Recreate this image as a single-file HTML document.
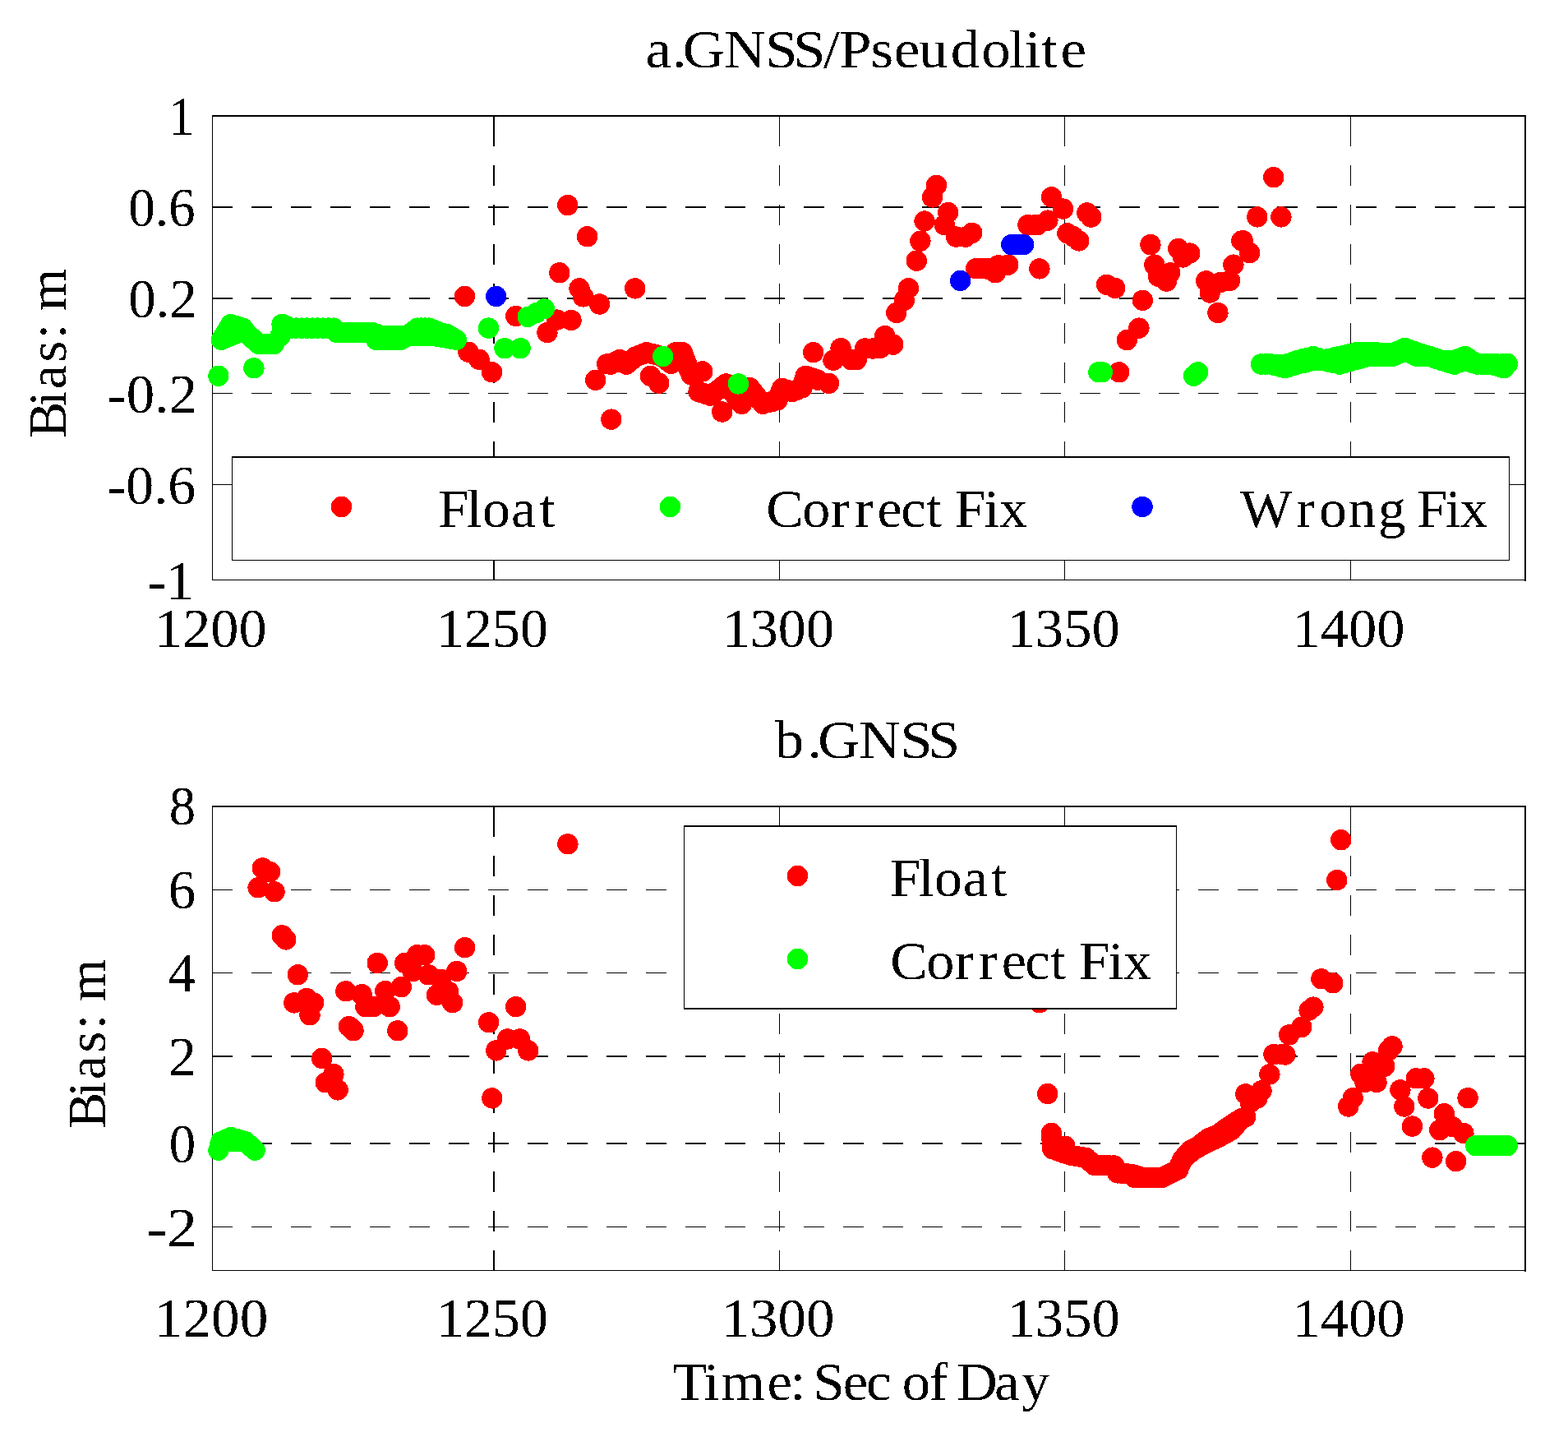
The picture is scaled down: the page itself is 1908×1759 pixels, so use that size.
<!DOCTYPE html>
<html><head><meta charset="utf-8"><title>GNSS/Pseudolite Bias</title>
<style>html,body{margin:0;padding:0;background:#fff;}svg{display:block;}text{font-family:'Liberation Serif', 'Times New Roman', serif;fill:#000;}</style></head><body>
<svg xmlns="http://www.w3.org/2000/svg" width="1908" height="1759" viewBox="0 0 1908 1759">
<defs><filter id="crisp" x="0" y="0" width="100%" height="100%"><feComponentTransfer><feFuncA type="discrete" tableValues="0 1"/></feComponentTransfer></filter></defs>
<rect width="1908" height="1759" fill="#fff"/>
<path d="M258 252H283 M306 252H331 M354 252H379 M402 252H427 M450 252H475 M498 252H523 M546 252H571 M594 252H619 M642 252H667 M690 252H715 M738 252H763 M786 252H811 M834 252H859 M882 252H907 M930 252H955 M978 252H1003 M1026 252H1051 M1074 252H1099 M1122 252H1147 M1170 252H1195 M1218 252H1243 M1266 252H1291 M1314 252H1339 M1362 252H1387 M1410 252H1435 M1458 252H1483 M1506 252H1531 M1554 252H1579 M1602 252H1627 M1650 252H1675 M1698 252H1723 M1746 252H1771 M1794 252H1819 M1836 252H1857" stroke="#000" stroke-width="2" fill="none" shape-rendering="crispEdges"/>
<path d="M258 363H283 M306 363H331 M354 363H379 M402 363H427 M450 363H475 M498 363H523 M546 363H571 M594 363H619 M642 363H667 M690 363H715 M738 363H763 M786 363H811 M834 363H859 M882 363H907 M930 363H955 M978 363H1003 M1026 363H1051 M1074 363H1099 M1122 363H1147 M1170 363H1195 M1218 363H1243 M1266 363H1291 M1314 363H1339 M1362 363H1387 M1410 363H1435 M1458 363H1483 M1506 363H1531 M1554 363H1579 M1602 363H1627 M1650 363H1675 M1698 363H1723 M1746 363H1771 M1794 363H1819 M1836 363H1857" stroke="#000" stroke-width="2" fill="none" shape-rendering="crispEdges"/>
<path d="M258 478.5H283 M306 478.5H331 M354 478.5H379 M402 478.5H427 M450 478.5H475 M498 478.5H523 M546 478.5H571 M594 478.5H619 M642 478.5H667 M690 478.5H715 M738 478.5H763 M786 478.5H811 M834 478.5H859 M882 478.5H907 M930 478.5H955 M978 478.5H1003 M1026 478.5H1051 M1074 478.5H1099 M1122 478.5H1147 M1170 478.5H1195 M1218 478.5H1243 M1266 478.5H1291 M1314 478.5H1339 M1362 478.5H1387 M1410 478.5H1435 M1458 478.5H1483 M1506 478.5H1531 M1554 478.5H1579 M1602 478.5H1627 M1650 478.5H1675 M1698 478.5H1723 M1746 478.5H1771 M1794 478.5H1819 M1836 478.5H1857" stroke="#000" stroke-width="1" fill="none" shape-rendering="crispEdges"/>
<path d="M258 589.5H283 M306 589.5H331 M354 589.5H379 M402 589.5H427 M450 589.5H475 M498 589.5H523 M546 589.5H571 M594 589.5H619 M642 589.5H667 M690 589.5H715 M738 589.5H763 M786 589.5H811 M834 589.5H859 M882 589.5H907 M930 589.5H955 M978 589.5H1003 M1026 589.5H1051 M1074 589.5H1099 M1122 589.5H1147 M1170 589.5H1195 M1218 589.5H1243 M1266 589.5H1291 M1314 589.5H1339 M1362 589.5H1387 M1410 589.5H1435 M1458 589.5H1483 M1506 589.5H1531 M1554 589.5H1579 M1602 589.5H1627 M1650 589.5H1675 M1698 589.5H1723 M1746 589.5H1771 M1794 589.5H1819 M1836 589.5H1857" stroke="#000" stroke-width="1" fill="none" shape-rendering="crispEdges"/>
<path d="M601 706V681 M601 658V633 M601 610V585 M601 562V537 M601 514V489 M601 466V441 M601 418V393 M601 370V345 M601 322V297 M601 274V249 M601 226V201 M601 178V140" stroke="#000" stroke-width="2" fill="none" shape-rendering="crispEdges"/>
<path d="M948.5 706V681 M948.5 658V633 M948.5 610V585 M948.5 562V537 M948.5 514V489 M948.5 466V441 M948.5 418V393 M948.5 370V345 M948.5 322V297 M948.5 274V249 M948.5 226V201 M948.5 178V140" stroke="#000" stroke-width="1" fill="none" shape-rendering="crispEdges"/>
<path d="M1295.5 706V681 M1295.5 658V633 M1295.5 610V585 M1295.5 562V537 M1295.5 514V489 M1295.5 466V441 M1295.5 418V393 M1295.5 370V345 M1295.5 322V297 M1295.5 274V249 M1295.5 226V201 M1295.5 178V140" stroke="#000" stroke-width="1" fill="none" shape-rendering="crispEdges"/>
<path d="M1643.5 706V681 M1643.5 658V633 M1643.5 610V585 M1643.5 562V537 M1643.5 514V489 M1643.5 466V441 M1643.5 418V393 M1643.5 370V345 M1643.5 322V297 M1643.5 274V249 M1643.5 226V201 M1643.5 178V140" stroke="#000" stroke-width="1" fill="none" shape-rendering="crispEdges"/>
<path d="M258 141H1857" stroke="#000" stroke-width="2" shape-rendering="crispEdges"/>
<path d="M258 705.5H1857" stroke="#000" stroke-width="1" shape-rendering="crispEdges"/>
<path d="M258.5 140V706" stroke="#000" stroke-width="1" shape-rendering="crispEdges"/>
<path d="M1856 140V707" stroke="#000" stroke-width="2" shape-rendering="crispEdges"/>
<path d="M627.7 384.5h0 M565.5 360.5h0 M690.8 249.6h0 M714.6 287.8h0 M680.8 331.8h0 M705 350.9h0 M709.6 360.9h0 M729.6 370h0 M665.9 404.5h0 M677.7 389.1h0 M695 389.6h0 M570 428.2h0 M583.1 437.3h0 M598.6 452.8h0 M743.8 510.1h0 M724.7 462.4h0 M738.7 442.8h0 M753.2 440h0 M772.7 350.9h0 M743.1 443.1h0 M748.5 440.3h0 M754 437.6h0 M758.1 440.3h0 M762.2 443.1h0 M765.8 440.1h0 M769.4 437.2h0 M773.1 434.2h0 M777.6 432.4h0 M782.1 430.6h0 M786.7 428.7h0 M793 430.3h0 M799.4 431.9h0 M805.8 433.5h0 M809.4 436.5h0 M813 439.4h0 M816.7 442.4h0 M818.5 437.8h0 M820.3 433.3h0 M822.1 428.7h0 M826.2 428.7h0 M830.3 428.7h0 M832.1 433.5h0 M833.9 438.3h0 M835.7 443.1h0 M837.6 447.4h0 M839.4 451.7h0 M841.2 456h0 M845.7 454.6h0 M850.3 453.3h0 M854.8 451.9h0 M791.5 457.4h0 M801.7 466.2h0 M850.1 476.4h0 M854.8 478h0 M859.6 479.6h0 M864.4 481.2h0 M869.1 477.6h0 M873.9 474.1h0 M878.7 470.5h0 M883.4 466.9h0 M887.3 471.8h0 M891.1 476.7h0 M894.9 481.6h0 M898.7 486.5h0 M902.5 491.4h0 M904.9 486.5h0 M907.3 481.6h0 M909.7 476.6h0 M912.1 471.7h0 M916.1 476.6h0 M920.2 481.6h0 M924.3 486.5h0 M928.4 491.4h0 M934.3 489.8h0 M940.2 488.3h0 M946.1 486.7h0 M947.9 481.9h0 M949.8 477.1h0 M951.6 472.4h0 M957.7 474.4h0 M963.8 476.4h0 M970 474.1h0 M976.1 471.7h0 M977.5 466.9h0 M978.8 462.1h0 M980.2 457.4h0 M985.2 459h0 M990.2 460.5h0 M995.2 462.1h0 M878.7 501h0 M989.7 428.7h0 M1008.5 466.4h0 M1014 438.2h0 M1023.1 423.7h0 M1035.8 437.8h0 M1042.2 437.8h0 M1052.6 424h0 M1062.2 424h0 M1071.3 423.3h0 M1076.8 408.6h0 M1086.8 419.1h0 M1090.8 380.5h0 M1100.4 365.4h0 M1105.5 350.7h0 M1115.3 317.2h0 M1119.9 293.2h0 M1125 269h0 M1134.6 239.9h0 M1139.5 225.4h0 M1153.7 258.5h0 M1149.3 273.6h0 M1163.5 288.1h0 M1175 288.1h0 M1182.8 283.4h0 M1187.7 326.7h0 M1194.1 326.7h0 M1200.5 326.9h0 M1205.9 326.9h0 M1211.4 331.8h0 M1215 322.7h0 M1226.8 322.1h0 M1250.9 273.6h0 M1262.3 273.6h0 M1259.4 273.6h0 M1274.9 268.1h0 M1279.5 239.7h0 M1293.6 254.1h0 M1274.9 268.1h0 M1293.6 254.1h0 M1322.8 259h0 M1327.7 264.1h0 M1298.9 283.9h0 M1305.8 287.6h0 M1312.7 292.9h0 M1264.9 326.9h0 M1346.6 346.3h0 M1356.8 350.5h0 M1390.4 365.4h0 M1385.9 399.1h0 M1371.3 413.6h0 M1361.7 452.8h0 M1399.9 297.6h0 M1404.8 322.1h0 M1409.5 336.3h0 M1419.5 342h0 M1423.7 331.8h0 M1439.5 312.9h0 M1433.7 302.5h0 M1447.7 308.1h0 M1467.7 341.8h0 M1472.3 356h0 M1485 343.6h0 M1496.5 341.4h0 M1500.9 322.1h0 M1510.9 293h0 M1481.9 380.5h0 M1549.8 215.7h0 M1529.8 263.9h0 M1558.9 263.9h0 M1512.2 292.7h0 M1520.7 307.6h0" stroke="#ff0000" stroke-width="25.4" stroke-linecap="round" shape-rendering="crispEdges" fill="none"/>
<path d="M265.8 457.3h0 M308.9 447.8h0 M269.4 413.4h0 M272.2 408.7h0 M275 404.1h0 M277.8 399.4h0 M280.6 394.7h0 M285.5 396.2h0 M290.4 397.6h0 M295.3 399.1h0 M297.4 402h0 M299.5 404.9h0 M295.7 404.4h0 M291.9 403.9h0 M286.2 406.3h0 M280.6 408.7h0 M275 411h0 M269.4 413.4h0 M299.5 404.9h0 M303.4 408.4h0 M307.3 411.8h0 M311.3 415.2h0 M315.2 418.6h0 M321.2 418.6h0 M327.2 418.6h0 M333.2 418.6h0 M341.1 408.7h0 M343.1 394.4h0 M348.6 396.7h0 M354.1 399.1h0 M360.6 399.1h0 M367.1 399.1h0 M373.6 399.1h0 M380.1 399.1h0 M386.5 399.1h0 M393 399.1h0 M399.5 399.1h0 M406 399.1h0 M409.5 404.4h0 M415.6 404.4h0 M421.8 404.4h0 M428 404.4h0 M434.2 404.4h0 M440.3 404.4h0 M446.5 404.4h0 M452.7 404.4h0 M455.3 408.9h0 M457.9 413.4h0 M463.8 413.4h0 M469.7 413.4h0 M475.5 413.4h0 M481.4 413.4h0 M487.3 413.4h0 M491.6 411h0 M495.9 408.6h0 M502.2 408.5h0 M508.4 408.4h0 M514.6 408.4h0 M520.8 408.3h0 M527.1 408.2h0 M532.7 409.3h0 M538.4 410.3h0 M544.1 411.3h0 M549.8 412.4h0 M555.4 413.4h0 M452.7 404.4h0 M458.8 406.5h0 M464.8 408.6h0 M471 408.6h0 M477.3 408.6h0 M483.5 408.6h0 M489.7 408.6h0 M495.9 408.6h0 M500 405.4h0 M504 402.2h0 M508 399.1h0 M512.7 399.1h0 M517.3 399.1h0 M521.9 399.1h0 M526.5 401h0 M531.1 402.9h0 M535.7 404.8h0 M540 405.7h0 M544.4 406.7h0 M549.9 410h0 M555.4 413.4h0 M594.4 399.1h0 M614 423.7h0 M633.1 423.7h0 M642.2 385.4h0 M652.3 380.9h0 M662.3 375.8h0 M806.7 433.5h0 M898.4 466.9h0 M1336.8 452.8h0 M1341.3 452.8h0 M1452.6 457.3h0 M1457.7 452.8h0 M1534.5 442.9h0 M1540.4 442.9h0 M1546.3 442.9h0 M1552 443.2h0 M1557.8 443.6h0 M1563.5 444h0 M1568.5 442.2h0 M1573.5 440.4h0 M1578.5 438.6h0 M1585 436.9h0 M1591.4 435.3h0 M1597.9 433.6h0 M1604.3 435.6h0 M1610.8 437.5h0 M1617.2 436.2h0 M1623.7 434.9h0 M1630.1 433.6h0 M1636.5 432.1h0 M1643 430.5h0 M1649.4 428.9h0 M1654.4 428.9h0 M1659.5 428.9h0 M1664.5 428.9h0 M1669.8 428.9h0 M1675.2 428.9h0 M1681.7 429.3h0 M1688.1 429.6h0 M1694.6 430h0 M1699.6 427.8h0 M1704.6 425.7h0 M1709.6 423.5h0 M1714.6 425.3h0 M1719.6 427.1h0 M1724.6 428.9h0 M1729.7 430.5h0 M1734.7 432.1h0 M1739.7 433.6h0 M1744.7 435.3h0 M1749.7 436.9h0 M1754.7 438.6h0 M1759.7 438.6h0 M1764.7 438.6h0 M1769.8 438.6h0 M1774.1 436.9h0 M1778.4 435.3h0 M1782.7 433.6h0 M1787.7 436.7h0 M1792.7 439.8h0 M1797.7 442.9h0 M1803.4 442.9h0 M1809.2 442.9h0 M1814.9 442.9h0 M1821.3 442.9h0 M1827.8 442.9h0 M1834.2 442.9h0 M1534.5 443.1h0 M1540.4 443.1h0 M1546.3 443.1h0 M1552 444.7h0 M1557.8 446.2h0 M1563.5 447.8h0 M1568.5 446.2h0 M1573.5 444.7h0 M1578.5 443.1h0 M1585 441.7h0 M1591.4 440.2h0 M1597.9 438.8h0 M1604.3 438.8h0 M1610.8 438.8h0 M1617.2 440.2h0 M1623.7 441.7h0 M1630.1 443.1h0 M1636.5 441.3h0 M1643 439.5h0 M1649.4 437.7h0 M1654.4 436.3h0 M1659.5 434.9h0 M1664.5 433.4h0 M1669.8 433.4h0 M1675.2 433.4h0 M1681.7 433.4h0 M1688.1 433.4h0 M1694.6 433.4h0 M1699.6 431.3h0 M1704.6 429.1h0 M1709.6 427h0 M1714.6 429.1h0 M1719.6 431.3h0 M1724.6 433.4h0 M1729.7 433.4h0 M1734.7 433.4h0 M1739.7 433.4h0 M1744.7 435.2h0 M1749.7 437h0 M1754.7 438.8h0 M1759.7 440.2h0 M1764.7 441.7h0 M1769.8 443.1h0 M1776.2 440.9h0 M1782.7 438.8h0 M1787.7 440.2h0 M1792.7 441.7h0 M1797.7 443.1h0 M1803.4 443.1h0 M1809.2 443.1h0 M1814.9 443.1h0 M1819.9 444.7h0 M1824.9 446.2h0 M1829.9 447.8h0 M1834.2 442.4h0" stroke="#00ff00" stroke-width="25.4" stroke-linecap="round" shape-rendering="crispEdges" fill="none"/>
<path d="M603.7 360.5h0 M1168.6 341.4h0 M1230.8 297.6h0 M1235.8 297.6h0 M1240.7 297.6h0 M1245.6 297.6h0" stroke="#0000ff" stroke-width="25.4" stroke-linecap="round" shape-rendering="crispEdges" fill="none"/>
<rect x="282" y="555" width="1555" height="127" fill="#fff" shape-rendering="crispEdges"/><path d="M282 556H1837" stroke="#000" stroke-width="2" shape-rendering="crispEdges"/><path d="M282 681.5H1837" stroke="#000" stroke-width="1" shape-rendering="crispEdges"/><path d="M282.5 555V682" stroke="#000" stroke-width="1" shape-rendering="crispEdges"/><path d="M1836.5 555V682" stroke="#000" stroke-width="1" shape-rendering="crispEdges"/>
<circle cx="415.5" cy="616.5" r="12.7" fill="#ff0000" shape-rendering="crispEdges"/>
<circle cx="815.5" cy="616.5" r="12.7" fill="#00ff00" shape-rendering="crispEdges"/>
<circle cx="1390" cy="616.5" r="12.7" fill="#0000ff" shape-rendering="crispEdges"/>
<path d="M258 1082.5H283 M306 1082.5H331 M354 1082.5H379 M402 1082.5H427 M450 1082.5H475 M498 1082.5H523 M546 1082.5H571 M594 1082.5H619 M642 1082.5H667 M690 1082.5H715 M738 1082.5H763 M786 1082.5H811 M834 1082.5H859 M882 1082.5H907 M930 1082.5H955 M978 1082.5H1003 M1026 1082.5H1051 M1074 1082.5H1099 M1122 1082.5H1147 M1170 1082.5H1195 M1218 1082.5H1243 M1266 1082.5H1291 M1314 1082.5H1339 M1362 1082.5H1387 M1410 1082.5H1435 M1458 1082.5H1483 M1506 1082.5H1531 M1554 1082.5H1579 M1602 1082.5H1627 M1650 1082.5H1675 M1698 1082.5H1723 M1746 1082.5H1771 M1794 1082.5H1819 M1836 1082.5H1857" stroke="#000" stroke-width="1" fill="none" shape-rendering="crispEdges"/>
<path d="M258 1183.5H283 M306 1183.5H331 M354 1183.5H379 M402 1183.5H427 M450 1183.5H475 M498 1183.5H523 M546 1183.5H571 M594 1183.5H619 M642 1183.5H667 M690 1183.5H715 M738 1183.5H763 M786 1183.5H811 M834 1183.5H859 M882 1183.5H907 M930 1183.5H955 M978 1183.5H1003 M1026 1183.5H1051 M1074 1183.5H1099 M1122 1183.5H1147 M1170 1183.5H1195 M1218 1183.5H1243 M1266 1183.5H1291 M1314 1183.5H1339 M1362 1183.5H1387 M1410 1183.5H1435 M1458 1183.5H1483 M1506 1183.5H1531 M1554 1183.5H1579 M1602 1183.5H1627 M1650 1183.5H1675 M1698 1183.5H1723 M1746 1183.5H1771 M1794 1183.5H1819 M1836 1183.5H1857" stroke="#000" stroke-width="1" fill="none" shape-rendering="crispEdges"/>
<path d="M258 1285H283 M306 1285H331 M354 1285H379 M402 1285H427 M450 1285H475 M498 1285H523 M546 1285H571 M594 1285H619 M642 1285H667 M690 1285H715 M738 1285H763 M786 1285H811 M834 1285H859 M882 1285H907 M930 1285H955 M978 1285H1003 M1026 1285H1051 M1074 1285H1099 M1122 1285H1147 M1170 1285H1195 M1218 1285H1243 M1266 1285H1291 M1314 1285H1339 M1362 1285H1387 M1410 1285H1435 M1458 1285H1483 M1506 1285H1531 M1554 1285H1579 M1602 1285H1627 M1650 1285H1675 M1698 1285H1723 M1746 1285H1771 M1794 1285H1819 M1836 1285H1857" stroke="#000" stroke-width="2" fill="none" shape-rendering="crispEdges"/>
<path d="M258 1391H283 M306 1391H331 M354 1391H379 M402 1391H427 M450 1391H475 M498 1391H523 M546 1391H571 M594 1391H619 M642 1391H667 M690 1391H715 M738 1391H763 M786 1391H811 M834 1391H859 M882 1391H907 M930 1391H955 M978 1391H1003 M1026 1391H1051 M1074 1391H1099 M1122 1391H1147 M1170 1391H1195 M1218 1391H1243 M1266 1391H1291 M1314 1391H1339 M1362 1391H1387 M1410 1391H1435 M1458 1391H1483 M1506 1391H1531 M1554 1391H1579 M1602 1391H1627 M1650 1391H1675 M1698 1391H1723 M1746 1391H1771 M1794 1391H1819 M1836 1391H1857" stroke="#000" stroke-width="2" fill="none" shape-rendering="crispEdges"/>
<path d="M258 1492.5H283 M306 1492.5H331 M354 1492.5H379 M402 1492.5H427 M450 1492.5H475 M498 1492.5H523 M546 1492.5H571 M594 1492.5H619 M642 1492.5H667 M690 1492.5H715 M738 1492.5H763 M786 1492.5H811 M834 1492.5H859 M882 1492.5H907 M930 1492.5H955 M978 1492.5H1003 M1026 1492.5H1051 M1074 1492.5H1099 M1122 1492.5H1147 M1170 1492.5H1195 M1218 1492.5H1243 M1266 1492.5H1291 M1314 1492.5H1339 M1362 1492.5H1387 M1410 1492.5H1435 M1458 1492.5H1483 M1506 1492.5H1531 M1554 1492.5H1579 M1602 1492.5H1627 M1650 1492.5H1675 M1698 1492.5H1723 M1746 1492.5H1771 M1794 1492.5H1819 M1836 1492.5H1857" stroke="#000" stroke-width="1" fill="none" shape-rendering="crispEdges"/>
<path d="M601 1546V1521 M601 1498V1473 M601 1450V1425 M601 1402V1377 M601 1354V1329 M601 1306V1281 M601 1258V1233 M601 1210V1185 M601 1162V1137 M601 1114V1089 M601 1066V1041 M601 1018V980" stroke="#000" stroke-width="2" fill="none" shape-rendering="crispEdges"/>
<path d="M948.5 1546V1521 M948.5 1498V1473 M948.5 1450V1425 M948.5 1402V1377 M948.5 1354V1329 M948.5 1306V1281 M948.5 1258V1233 M948.5 1210V1185 M948.5 1162V1137 M948.5 1114V1089 M948.5 1066V1041 M948.5 1018V980" stroke="#000" stroke-width="1" fill="none" shape-rendering="crispEdges"/>
<path d="M1295.5 1546V1521 M1295.5 1498V1473 M1295.5 1450V1425 M1295.5 1402V1377 M1295.5 1354V1329 M1295.5 1306V1281 M1295.5 1258V1233 M1295.5 1210V1185 M1295.5 1162V1137 M1295.5 1114V1089 M1295.5 1066V1041 M1295.5 1018V980" stroke="#000" stroke-width="1" fill="none" shape-rendering="crispEdges"/>
<path d="M1643.5 1546V1521 M1643.5 1498V1473 M1643.5 1450V1425 M1643.5 1402V1377 M1643.5 1354V1329 M1643.5 1306V1281 M1643.5 1258V1233 M1643.5 1210V1185 M1643.5 1162V1137 M1643.5 1114V1089 M1643.5 1066V1041 M1643.5 1018V980" stroke="#000" stroke-width="1" fill="none" shape-rendering="crispEdges"/>
<path d="M258 981H1857" stroke="#000" stroke-width="2" shape-rendering="crispEdges"/>
<path d="M258 1545.5H1857" stroke="#000" stroke-width="1" shape-rendering="crispEdges"/>
<path d="M258.5 980V1546" stroke="#000" stroke-width="1" shape-rendering="crispEdges"/>
<path d="M1856 980V1547" stroke="#000" stroke-width="2" shape-rendering="crispEdges"/>
<path d="M319.4 1056h0 M328.6 1060.6h0 M314.1 1079.8h0 M334 1084.8h0 M319.4 1056h0 M314.1 1079.8h0 M328.6 1060.6h0 M334 1084.8h0 M343.2 1137.8h0 M347.8 1142.9h0 M362.4 1185.8h0 M357.8 1219.9h0 M373.2 1214.5h0 M381.6 1219.9h0 M377 1234.8h0 M357.8 1219.9h0 M420.8 1205.8h0 M425.4 1249.1h0 M430 1253.7h0 M391.6 1287.5h0 M405.9 1306.6h0 M396.3 1316.8h0 M411.1 1325.9h0 M459.2 1171.5h0 M565.6 1152.7h0 M492.6 1171.5h0 M507.7 1161.7h0 M516.8 1161.7h0 M502.2 1181.7h0 M521.3 1185.8h0 M536.3 1191.3h0 M555.8 1181.5h0 M492.6 1171.5h0 M502.2 1181.7h0 M488.3 1200.6h0 M468.8 1205.6h0 M474.2 1224.7h0 M454.5 1224.7h0 M444.9 1224.7h0 M440.1 1209.7h0 M468.8 1205.6h0 M454.5 1224.7h0 M429.9 1253.3h0 M424.4 1248.6h0 M483.8 1253.8h0 M536.3 1191.3h0 M531.5 1210.4h0 M545.6 1206.3h0 M550.6 1219.7h0 M594.7 1243.8h0 M627.7 1224.7h0 M603.8 1277.9h0 M617.5 1263.9h0 M632.5 1263.9h0 M642.7 1277.9h0 M598.8 1335.9h0 M690.9 1026.8h0 M1264.9 1219.7h0 M1274.7 1330.6h0 M1279.4 1378.5h0 M1279.9 1384.9h0 M1280.3 1391.2h0 M1280.8 1397.6h0 M1285.8 1396.5h0 M1290.8 1395.3h0 M1295.8 1394.2h0 M1295.8 1398.6h0 M1295.8 1403h0 M1300.6 1404.4h0 M1305.3 1405.8h0 M1310.8 1406.7h0 M1316.2 1407.6h0 M1321.7 1408.5h0 M1326.4 1412.9h0 M1331.2 1417.3h0 M1337.3 1417.5h0 M1343.5 1417.7h0 M1349.6 1417.9h0 M1355.7 1418h0 M1357.8 1422.5h0 M1359.8 1426.9h0 M1365.3 1427.3h0 M1370.7 1427.8h0 M1376.2 1428.2h0 M1380.7 1429.6h0 M1385.3 1431h0 M1389.8 1432.3h0 M1380.3 1432.3h0 M1387.2 1432.3h0 M1394 1432.3h0 M1400.8 1432.3h0 M1407.6 1432.3h0 M1414.5 1432.3h0 M1419.3 1429.9h0 M1424.1 1427.5h0 M1429 1425h0 M1433.8 1422.6h0 M1436.2 1416.5h0 M1438.7 1410.5h0 M1442 1406.7h0 M1445.3 1403h0 M1448.6 1399.3h0 M1453.1 1397h0 M1457.7 1394.8h0 M1461.8 1391.5h0 M1466 1388.2h0 M1470.2 1384.9h0 M1476.4 1382.3h0 M1482.7 1379.8h0 M1486.9 1376.7h0 M1491 1373.7h0 M1495.2 1370.7h0 M1500.5 1367.2h0 M1505.8 1363.8h0 M1511.1 1360.4h0 M1515.8 1330.9h0 M1521.4 1341.3h0 M1529.9 1335.9h0 M1535 1326.9h0 M1544.9 1306.9h0 M1549.9 1282.5h0 M1560.4 1282.5h0 M1438.7 1410.5h0 M1443.5 1406.4h0 M1448.3 1402.4h0 M1453.1 1398.4h0 M1458.8 1395.4h0 M1464.5 1392.3h0 M1470.2 1389.3h0 M1476.4 1386.5h0 M1482.7 1383.6h0 M1488 1380.6h0 M1493.3 1377.6h0 M1498.6 1374.5h0 M1502.8 1369.8h0 M1507 1365.1h0 M1511.1 1360.4h0 M1515.7 1358.6h0 M1280.8 1397.6h0 M1285.8 1399.4h0 M1290.8 1401.2h0 M1295.8 1403h0 M1550 1282.7h0 M1563.9 1283h0 M1568.7 1258.8h0 M1583.8 1249.4h0 M1593.1 1229h0 M1597.9 1225.1h0 M1607.9 1190.8h0 M1621.8 1195.8h0 M1631.8 1021.7h0 M1626.8 1070.6h0 M1694 1272.8h0 M1689.5 1278.3h0 M1670.1 1291.8h0 M1684.8 1297.3h0 M1655.9 1306.3h0 M1661 1316.6h0 M1675 1316.6h0 M1670.1 1291.8h0 M1655.9 1306.3h0 M1670.1 1305.9h0 M1684.8 1297.3h0 M1675 1316.6h0 M1646.2 1335.7h0 M1640.7 1346h0 M1723.2 1311.8h0 M1732.9 1311.8h0 M1703.9 1325.9h0 M1708.8 1346h0 M1737.8 1336h0 M1786.1 1335.7h0 M1757.3 1354.7h0 M1767.1 1370.5h0 M1780.9 1378.6h0 M1757.3 1354.7h0 M1751.8 1374.7h0 M1767.1 1370.5h0 M1718.4 1370.1h0 M1742.9 1408.1h0 M1771.7 1412.7h0" stroke="#ff0000" stroke-width="25.4" stroke-linecap="round" shape-rendering="crispEdges" fill="none"/>
<path d="M265.8 1399.1h0 M267.3 1394h0 M268.8 1388.8h0 M274.9 1386.1h0 M280.9 1383.5h0 M286.9 1385.2h0 M292.8 1387h0 M298.8 1388.8h0 M302.6 1392.2h0 M306.4 1395.7h0 M310.2 1399.1h0 M268.8 1388.8h0 M274.8 1388.8h0 M280.8 1388.8h0 M286.8 1388.8h0 M292.8 1388.8h0 M298.8 1388.8h0 M1795.7 1393.7h0 M1802.1 1393.7h0 M1808.5 1393.7h0 M1814.9 1393.7h0 M1821.3 1393.7h0 M1827.8 1393.7h0 M1834.2 1393.7h0" stroke="#00ff00" stroke-width="25.4" stroke-linecap="round" shape-rendering="crispEdges" fill="none"/>
<rect x="832" y="1004" width="600" height="224" fill="#fff" shape-rendering="crispEdges"/><path d="M832 1005H1432" stroke="#000" stroke-width="2" shape-rendering="crispEdges"/><path d="M832 1227H1432" stroke="#000" stroke-width="2" shape-rendering="crispEdges"/><path d="M832.5 1004V1228" stroke="#000" stroke-width="1" shape-rendering="crispEdges"/><path d="M1431.5 1004V1228" stroke="#000" stroke-width="1" shape-rendering="crispEdges"/>
<circle cx="970.5" cy="1065.5" r="12.7" fill="#ff0000" shape-rendering="crispEdges"/>
<circle cx="970.5" cy="1166.5" r="12.7" fill="#00ff00" shape-rendering="crispEdges"/>
<g filter="url(#crisp)">
<text x="205.2" y="164" font-size="67" textLength="31.3" lengthAdjust="spacingAndGlyphs">1</text>
<text x="156.2" y="275" font-size="67" textLength="81.5" lengthAdjust="spacingAndGlyphs">0.6</text>
<text x="156.2" y="385.6" font-size="67" textLength="83.5" lengthAdjust="spacingAndGlyphs">0.2</text>
<text x="130.8" y="502.3" font-size="67" textLength="109.2" lengthAdjust="spacingAndGlyphs">-0.2</text>
<text x="130.8" y="612.5" font-size="67" textLength="107.2" lengthAdjust="spacingAndGlyphs">-0.6</text>
<text x="179.8" y="728.5" font-size="67" textLength="56.4" lengthAdjust="spacingAndGlyphs">-1</text>
<text x="188.2" y="786.9" font-size="67" textLength="136.3" lengthAdjust="spacingAndGlyphs">1200</text>
<text x="531.1" y="786.9" font-size="67" textLength="135.8" lengthAdjust="spacingAndGlyphs">1250</text>
<text x="878.7" y="786.9" font-size="67" textLength="136.3" lengthAdjust="spacingAndGlyphs">1300</text>
<text x="1225.5" y="786.9" font-size="67" textLength="137.4" lengthAdjust="spacingAndGlyphs">1350</text>
<text x="1572.5" y="786.9" font-size="67" textLength="137" lengthAdjust="spacingAndGlyphs">1400</text>
<text x="205.7" y="1002.7" font-size="67" textLength="32.4" lengthAdjust="spacingAndGlyphs">8</text>
<text x="204.7" y="1104.8" font-size="67" textLength="33.4" lengthAdjust="spacingAndGlyphs">6</text>
<text x="204.5" y="1206.3" font-size="67" textLength="33.1" lengthAdjust="spacingAndGlyphs">4</text>
<text x="204.7" y="1307.8" font-size="67" textLength="34.2" lengthAdjust="spacingAndGlyphs">2</text>
<text x="205.7" y="1413.7" font-size="67" textLength="32.4" lengthAdjust="spacingAndGlyphs">0</text>
<text x="178.7" y="1515.5" font-size="67" textLength="61.2" lengthAdjust="spacingAndGlyphs">-2</text>
<text x="187.8" y="1626.4" font-size="67" textLength="138.5" lengthAdjust="spacingAndGlyphs">1200</text>
<text x="531.1" y="1626.4" font-size="67" textLength="135.8" lengthAdjust="spacingAndGlyphs">1250</text>
<text x="877.7" y="1626.4" font-size="67" textLength="137.7" lengthAdjust="spacingAndGlyphs">1300</text>
<text x="1225.5" y="1626.4" font-size="67" textLength="137.4" lengthAdjust="spacingAndGlyphs">1350</text>
<text x="1572.5" y="1626.4" font-size="67" textLength="137" lengthAdjust="spacingAndGlyphs">1400</text>
<text transform="scale(1.0767 1)" x="729.6 759.8 771.6 818 864.7 896.3 930.6 948.2 984.1 1010.3 1038.4 1074.3 1109.2 1140.4 1158 1176.8 1198.6" y="81.7" font-size="66">a.GNSS/Pseudolite</text>
<text transform="scale(1.0664 1)" x="884.4 921 933.2 980 1027.2 1058.8" y="921.6" font-size="66">b.GNSS</text>
<text transform="scale(1.0271 1)" x="1054.3 1088.2 1107 1140.9 1174.4" y="1090.1" font-size="66">Float</text>
<text transform="scale(1.0313 1)" x="1050.3 1093 1126.7 1154.8 1181.7 1209.3 1239.1 1257.4 1272.8 1307.5 1325.5" y="1190.8" font-size="66">Correct Fix</text>
<text transform="scale(1.0271 1)" x="518.9 552.8 571.6 605.5 639.1" y="640.6" font-size="66">Float</text>
<text transform="scale(1.0313 1)" x="903.9 946.6 980.3 1008.4 1035.2 1062.9 1092.7 1111 1126.4 1161 1179.1" y="640.6" font-size="66">Correct Fix</text>
<text transform="scale(1.0166 1)" x="1484.6 1551.7 1579.1 1613.9 1649.7 1682.7 1695.9 1730.3 1747.7" y="640.6" font-size="66">Wrong Fix</text>
<text transform="scale(1.0402 1)" x="786.9 823.1 843.6 897.5 924 942.4 951.2 986.1 1013.3 1042.6 1055.4 1086.8 1108.7 1119.3 1163.3 1195" y="1702.8" font-size="66">Time: Sec of Day</text>
<text transform="translate(80.1 531.5) rotate(-90) scale(1.0023 1)" x="-1.3 37.3 58 90.9 119 137.3 153.1" y="0" font-size="66">Bias: m</text>
<text transform="translate(127.9 1371.5) rotate(-90) scale(1.0023 1)" x="-1.3 37.3 58 90.9 119 137.3 153.1" y="0" font-size="66">Bias: m</text>
</g>
</svg></body></html>
